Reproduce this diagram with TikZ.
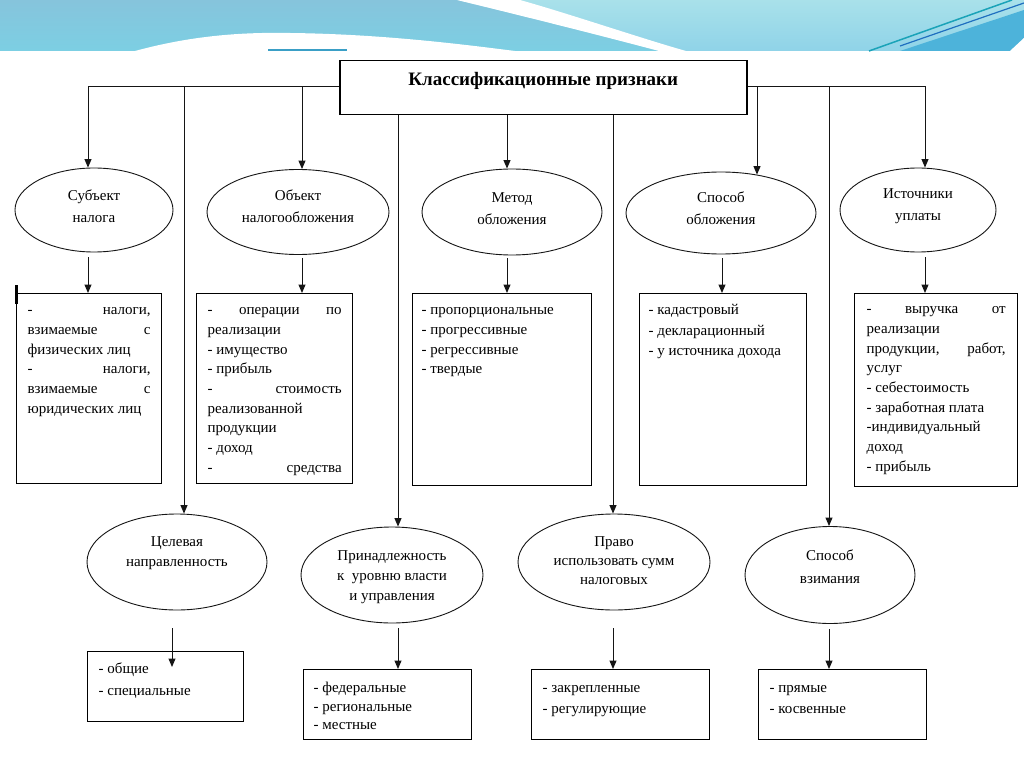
\documentclass[tikz,border=0pt]{standalone}
\usepackage{fontspec}
\setmainfont{Liberation Serif}
\usetikzlibrary{shapes.geometric,arrows.meta,calc}
\definecolor{lnc}{HTML}{151515}
\definecolor{bnL}{HTML}{86C4DC}
\definecolor{bnLb}{HTML}{7CCFE3}
\definecolor{bnR}{HTML}{A9E1EA}
\definecolor{bnRb}{HTML}{8FD3E8}
\definecolor{bnMid}{HTML}{4DB3DA}
\definecolor{bnTeal}{HTML}{1AA3B8}
\definecolor{bnDark}{HTML}{1F6FC0}
\definecolor{accent}{HTML}{3A9FC6}
\newcommand\lst[4]{\parbox[t][#2][t]{#1}{\raggedright\vspace*{#3}\strut #4\par}}
\begin{document}
\begin{tikzpicture}[x=1pt,y=-1pt,
  arr/.style={draw=lnc, line width=1pt, -{Triangle[length=8.5pt,width=7pt]}},
  ln/.style={draw=lnc, line width=1pt},
  ell/.style={ellipse, draw=lnc, line width=0.9pt, inner sep=0pt, fill=white},
  etxt/.style={align=center, inner sep=0pt, text=black, font=\fontsize{15}{22}\selectfont},
  etxtb/.style={align=center, inner sep=0pt, text=black, font=\fontsize{15}{20}\selectfont},
  bx/.style={draw=black, line width=1.3pt, anchor=north west, inner ysep=0pt, fill=white, font=\fontsize{15}{19.7}\selectfont},
]
\useasboundingbox (0,0) rectangle (1024,767);
\fill[white] (0,0) rectangle (1024,767);
% ---------- banner ----------
\shade[top color=bnR, bottom color=bnRb] (0,0) rectangle (1024,51);
\shade[top color=bnL, bottom color=bnLb] (0,0) -- (457,0) .. controls (490,8) and (580,30) .. (659,51) -- (0,51) -- cycle;
\fill[white] (457,0) -- (520,0) .. controls (570,14) and (640,38) .. (686,51) -- (659,51) .. controls (580,30) and (490,8) .. (457,0) -- cycle;
\fill[white] (135,51) .. controls (190,36) and (240,32) .. (290,33) .. controls (380,34) and (460,44) .. (515,51) -- cycle;
\fill[bnMid] (900,51) -- (1024,10) -- (1024,38) -- (1010,51) -- cycle;
\fill[white] (1010,51) -- (1024,38) -- (1024,51) -- cycle;
\draw[bnTeal, line width=1.5pt] (1012,0) -- (869,51);
\draw[bnDark, line width=1.2pt] (1024,3) -- (900,46);
\draw[accent, line width=1.6pt] (268,50) -- (347,50);
% ---------- header ----------
\node[draw=black, line width=1.5pt, anchor=north west, inner sep=0pt, fill=white,
      font=\bfseries\fontsize{19}{22}\selectfont] (hdr) at (339,60)
  {\parbox[t][54pt][t]{407pt}{\centering\vspace*{9.6pt}\strut Классификационные признаки\par}};
% ---------- x positions ----------
\coordinate (hl) at (0,86.5);
\foreach \n/\x in {x88/88, x172/172, x184/184, x302/302, x398/398, x507/507, x613/613, x722/722, x757/757, x829/829, x925/925}
  \coordinate (\n) at (\x,0);
% ---------- ellipses row 1 ----------
\node[ell, minimum width=158pt, minimum height=84pt] (e1) at (94,210) {};
\node[etxt] (t1) at (94,206) {Субъект\\налога};
\node[ell, minimum width=182pt, minimum height=85pt] (e2) at (298,212) {};
\node[etxt] (t2) at (298,206) {Объект\\налогообложения};
\node[ell, minimum width=180pt, minimum height=86pt] (e3) at (512,212) {};
\node[etxt] (t3) at (512,208.5) {Метод\\обложения};
\node[ell, minimum width=190pt, minimum height=82pt] (e4) at (721,213) {};
\node[etxt] (t4) at (721,208.5) {Способ\\обложения};
\node[ell, minimum width=156pt, minimum height=84pt] (e5) at (918,210) {};
\node[etxt] (t5) at (918,206) {Источники\\уплаты};
% ---------- boxes row 1 ----------
\node[bx, inner xsep=11pt] (b1) at (16,293)
  {\lst{123pt}{190pt}{7.2pt}{-\hfill налоги,\\ взимаемые\hfill с\\ физических лиц\\ -\hfill налоги,\\ взимаемые\hfill с\\ юридических лиц}};
\fill[black] (14.5,285) rectangle (18,304);
\node[bx, inner xsep=11pt] (b2) at (196,293)
  {\lst{134pt}{190pt}{7.2pt}{-\hfill операции\hfill по\\ реализации\\ - имущество\\ - прибыль\\ -\hfill стоимость\\ реализованной\\ продукции\\ - доход\\ -\hfill средства}};
\node[bx, inner xsep=9pt] (b3) at (412,293)
  {\lst{161pt}{192pt}{7.2pt}{- пропорциональные\\ - прогрессивные\\ - регрессивные\\ - твердые}};
\node[bx, inner xsep=9pt] (b4) at (639,293)
  {\lst{149pt}{192pt}{7.2pt}{- кадастровый\\[0.8pt] - декларационный\\[0.8pt] - у источника дохода}};
\node[bx, inner xsep=12pt] (b5) at (854,293)
  {\lst{139pt}{193pt}{6.2pt}{-\hfill выручка\hfill от\\ реализации\\ продукции,\hfill работ,\\ услуг\\ - себестоимость\\ - заработная плата\\ -индивидуальный\\ доход\\ - прибыль}};
% ---------- ellipses row 2 ----------
\node[ell, minimum width=180pt, minimum height=96pt] (e6) at (177,562) {};
\node[etxtb] (t6) at (177,553) {Целевая\\направленность};
\node[ell, minimum width=182pt, minimum height=96pt] (e7) at (392,575) {};
\node[etxtb] (t7) at (392,577) {Принадлежность\\к \ уровню власти\\и управления};
\node[ell, minimum width=192pt, minimum height=96pt] (e8) at (614,562) {};
\node[etxt, font=\fontsize{15}{19}\selectfont] (t8) at (614,561) {Право\\использовать сумм\\налоговых};
\node[ell, minimum width=170pt, minimum height=97pt] (e9) at (830,575) {};
\node[etxt, font=\fontsize{15}{23}\selectfont] (t9) at (830,566.5) {Способ\\взимания};
% ---------- boxes row 2 ----------
\node[bx, inner xsep=11pt] (b6) at (87,651)
  {\lst{134pt}{70pt}{8.2pt}{- общие\\[2.3pt] - специальные}};
\node[bx, inner xsep=10pt] (b7) at (303,669)
  {\lst{148pt}{70pt}{9.2pt}{- федеральные\\[-1.2pt] - региональные\\[-1.2pt] - местные}};
\node[bx, inner xsep=11pt] (b8) at (531,669)
  {\lst{156pt}{70pt}{9.2pt}{- закрепленные\\[1.3pt] - регулирующие}};
\node[bx, inner xsep=11pt] (b9) at (758,669)
  {\lst{146pt}{70pt}{9.2pt}{- прямые\\[1.3pt] - косвенные}};
% ---------- connectors ----------
\draw[ln] (x88 |- hl) -- (hdr.west |- hl);
\draw[ln] (hdr.east |- hl) -- (x925 |- hl);
\draw[arr] (x88 |- hl) -- (x88 |- e1.north);
\draw[arr] (x184 |- hl) -- (x184 |- e6.north);
\draw[arr] (x302 |- hl) -- (x302 |- e2.north);
\draw[arr] (x757 |- hl) -- (x757 |- e4.47);
\draw[arr] (x829 |- hl) -- (x829 |- e9.north);
\draw[arr] (x925 |- hl) -- (x925 |- e5.north);
\draw[arr] (x398 |- hdr.south) -- (x398 |- e7.north);
\draw[arr] (x507 |- hdr.south) -- (x507 |- e3.north);
\draw[arr] (x613 |- hdr.south) -- (x613 |- e8.north);
\draw[arr] ($(x88 |- e1.south)+(0,5)$) -- (x88 |- b1.north);
\draw[arr] ($(x302 |- e2.south)+(0,3)$) -- (x302 |- b2.north);
\draw[arr] ($(x507 |- e3.south)+(0,3)$) -- (x507 |- b3.north);
\draw[arr] ($(x722 |- e4.south)+(0,4)$) -- (x722 |- b4.north);
\draw[arr] ($(x925 |- e5.south)+(0,5)$) -- (x925 |- b5.north);
\draw[arr] ($(x172 |- e6.south)+(0,18)$) -- ($(x172 |- b6.north)+(0,16)$);
\draw[arr] ($(x398 |- e7.south)+(0,5)$) -- (x398 |- b7.north);
\draw[arr] ($(x613 |- e8.south)+(0,18)$) -- (x613 |- b8.north);
\draw[arr] ($(x829 |- e9.south)+(0,5)$) -- (x829 |- b9.north);
\end{tikzpicture}
\end{document}
